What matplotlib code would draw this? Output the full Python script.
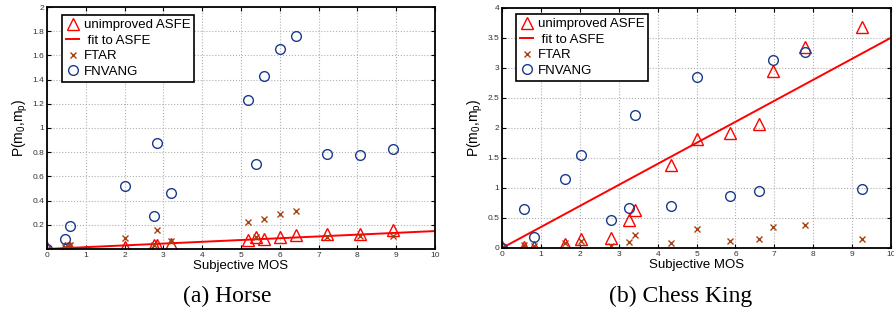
import matplotlib
matplotlib.use('Agg')
import matplotlib.pyplot as plt

plt.rcParams['font.family'] = ['Liberation Sans', 'DejaVu Sans']
plt.rcParams['mathtext.default'] = 'regular'

# (a) Horse
horse_mos = [0, 0.46, 0.6, 2.01, 2.76, 2.83, 3.19, 5.17, 5.39, 5.59, 6.01, 6.43, 7.21, 8.08, 8.91]
horse_asfe = [0.01, 0.005, 0.01, 0.02, 0.03, 0.03, 0.04, 0.07, 0.095, 0.08, 0.10, 0.115, 0.12, 0.12, 0.155]
horse_ftar = [0, 0.02, 0.03, 0.09, 0.035, 0.157, 0.066, 0.22, 0.097, 0.25, 0.287, 0.31, 0.10, 0.107, 0.11]
horse_fnvang = [0, 0.08, 0.19, 0.52, 0.27, 0.88, 0.46, 1.23, 0.70, 1.43, 1.65, 1.76, 0.785, 0.777, 0.826]
horse_fit_x = [0, 10]
horse_fit_y = [0.0, 0.148]

# (b) Chess King
king_mos = [0, 0.56, 0.83, 1.63, 2.03, 2.80, 3.25, 3.42, 4.34, 5.0, 5.87, 6.6, 6.97, 7.79, 9.25]
king_asfe = [0.01, 0.02, 0.02, 0.06, 0.15, 0.17, 0.47, 0.63, 1.38, 1.81, 1.91, 2.06, 2.955, 3.355, 3.68]
king_ftar = [0, 0.045, 0.03, 0.09, 0.12, 0.04, 0.095, 0.21, 0.09, 0.31, 0.12, 0.15, 0.355, 0.38, 0.155]
king_fnvang = [0, 0.65, 0.18, 1.15, 1.545, 0.47, 0.66, 2.22, 0.70, 2.855, 0.87, 0.955, 3.13, 3.26, 0.98]
king_fit_x = [0, 10]
king_fit_y = [0.0, 3.505]

panels = [
    (horse_mos, horse_asfe, horse_ftar, horse_fnvang, horse_fit_x, horse_fit_y,
     2.0, [0.2 * i for i in range(1, 11)], '(a) Horse'),
    (king_mos, king_asfe, king_ftar, king_fnvang, king_fit_x, king_fit_y,
     4.0, [0.5 * i for i in range(0, 9)], '(b) Chess King'),
]
positions = [[0.0525, 0.222, 0.4335, 0.756], [0.561, 0.225, 0.4346, 0.75]]
legend_anchor = [(0.039, 0.967), (0.036, 0.975)]
caption_x = [0.254, 0.761]

red = '#ff0000'
brown = '#a8420e'
blue = '#1a3a8c'

fig = plt.figure(figsize=(8.95, 3.2), dpi=100)
for i, (mos, asfe, ftar, fnv, fx, fy, ymax, yticks, caption) in enumerate(panels):
    ax = fig.add_axes(positions[i])
    ax.plot(mos, asfe, linestyle='none', marker='^', ms=8.5, mfc='none', mec=red, mew=1.0,
            label='unimproved ASFE')
    ax.plot(fx, fy, color=red, lw=1.4, label=' fit to ASFE')
    ax.plot(mos, ftar, linestyle='none', marker='x', ms=4.5, mec=brown, mew=1.0, label='FTAR')
    ax.plot(mos, fnv, linestyle='none', marker='o', ms=7, mfc='none', mec=blue, mew=1.0,
            label='FNVANG')
    ax.set_xlim(0, 10)
    ax.set_ylim(0, ymax)
    ax.set_xticks(range(0, 11))
    ax.set_yticks(yticks)
    ax.set_yticklabels(['%g' % t for t in yticks])
    ax.tick_params(direction='in', top=True, right=True, labelsize=6, length=3, pad=2,
                   labelcolor='#333333')
    ax.grid(True, linestyle=':', color='#b0b0b0', lw=0.8)
    for s in ax.spines.values():
        s.set_linewidth(1.3)
    ax.set_xlabel('Subjective MOS', fontsize=9.5, labelpad=1)
    ax.set_ylabel('P(m$_0$,m$_p$)', fontsize=10, labelpad=2)
    leg = ax.legend(loc='upper left', bbox_to_anchor=legend_anchor[i], borderaxespad=0,
                    fontsize=9.5, frameon=True, fancybox=False, edgecolor='black',
                    handlelength=1.0, handletextpad=0.35, borderpad=0.3, labelspacing=0.25)
    leg.get_frame().set_linewidth(1.2)
    leg.get_frame().set_alpha(1)
    fig.text(caption_x[i], 0.075, caption, ha='center', va='center',
             fontsize=17, family='Liberation Serif')

fig.savefig('out.png', dpi=100)
